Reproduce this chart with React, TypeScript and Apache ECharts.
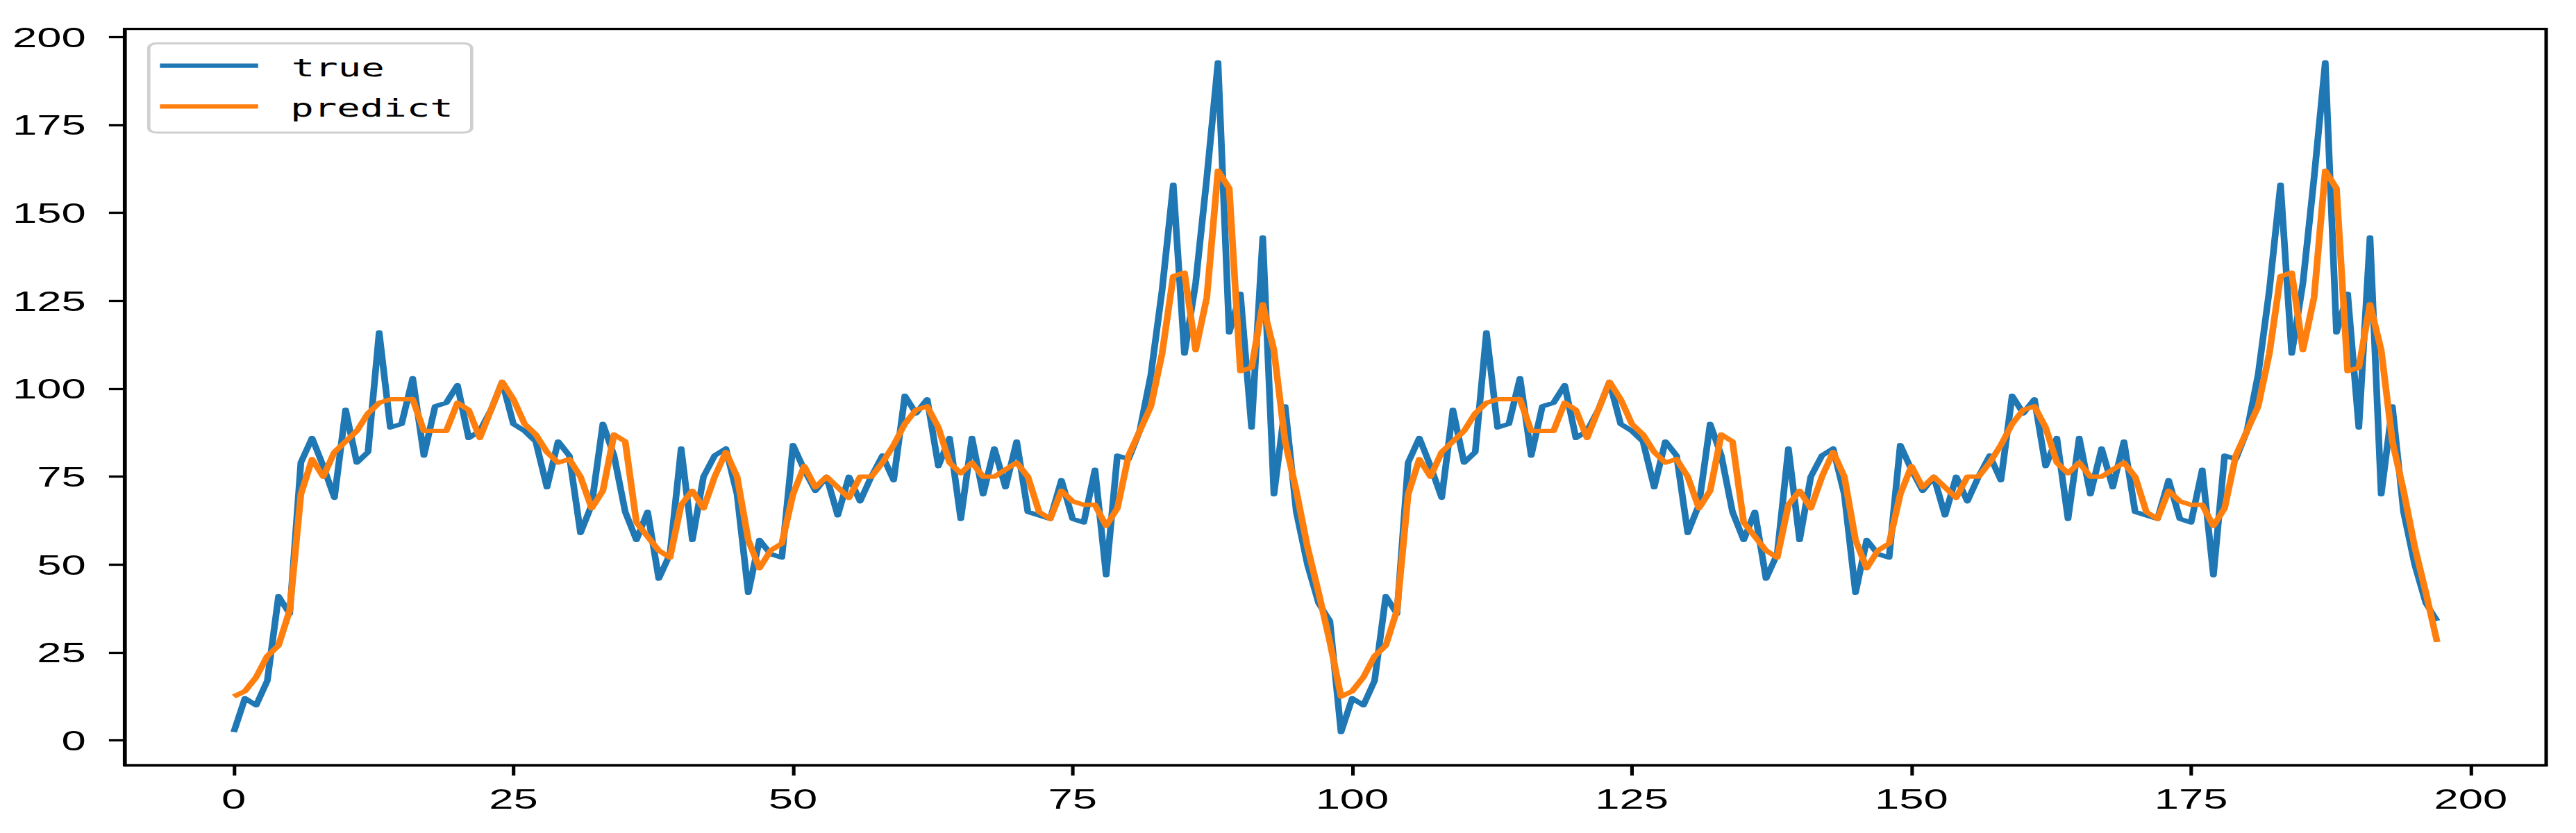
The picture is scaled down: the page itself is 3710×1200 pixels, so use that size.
import React, { useEffect, useRef } from "react";
import * as echarts from "echarts";

// ---- data ----
const xTickValues = [0, 25, 50, 75, 100, 125, 150, 175, 200];
const yTickValues = [0, 25, 50, 75, 100, 125, 150, 175, 200];
const seriesNames = ["true", "predict"];

const trueValues = [
  2.4, 12, 10, 17, 41, 36, 79, 86, 78, 69,
  94, 79, 82, 116, 89, 90, 103, 81, 95, 96,
  101, 86, 88, 94, 102, 90, 88, 85, 72, 85,
  81, 59, 67, 90, 81, 65, 57, 65, 46, 53,
  83, 57, 75, 81, 83, 70, 42, 57, 53, 52,
  84, 77, 71, 75, 64, 75, 68, 75, 81, 74,
  98, 93, 97, 78, 86, 63, 86, 70, 83, 72,
  85, 65, 64, 63, 74, 63, 62, 77, 47, 81,
  80, 88, 104, 128, 158, 110, 130, 160, 192.8, 116,
  127, 89, 143, 70, 95, 65, 50, 39, 34,
  2.4, 12, 10, 17, 41, 36, 79, 86, 78, 69,
  94, 79, 82, 116, 89, 90, 103, 81, 95, 96,
  101, 86, 88, 94, 102, 90, 88, 85, 72, 85,
  81, 59, 67, 90, 81, 65, 57, 65, 46, 53,
  83, 57, 75, 81, 83, 70, 42, 57, 53, 52,
  84, 77, 71, 75, 64, 75, 68, 75, 81, 74,
  98, 93, 97, 78, 86, 63, 86, 70, 83, 72,
  85, 65, 64, 63, 74, 63, 62, 77, 47, 81,
  80, 88, 104, 128, 158, 110, 130, 160, 192.8, 116,
  127, 89, 143, 70, 95, 65, 50, 39, 34,
];

const predictValues = [
  12.5, 14, 18, 24, 27, 37, 70, 80, 75, 82,
  85, 88, 93, 96, 97, 97, 97, 88, 88, 88,
  96, 94, 86, 94, 102, 97, 90, 87, 82, 79,
  80, 75, 66, 71, 87, 85, 62, 58, 54, 52,
  67, 71, 66, 75, 82, 75, 57, 49, 54, 56,
  70, 78, 72, 75, 72, 69, 75, 75, 79, 84,
  90, 94, 95, 89, 79, 76, 79, 75, 75, 77,
  79, 75, 65, 63, 71, 68, 67, 67, 61, 66,
  81, 88, 95, 110, 132, 133, 111, 126, 162, 157,
  105, 106, 124, 111, 85, 71, 55, 42, 28,
  12.5, 14, 18, 24, 27, 37, 70, 80, 75, 82,
  85, 88, 93, 96, 97, 97, 97, 88, 88, 88,
  96, 94, 86, 94, 102, 97, 90, 87, 82, 79,
  80, 75, 66, 71, 87, 85, 62, 58, 54, 52,
  67, 71, 66, 75, 82, 75, 57, 49, 54, 56,
  70, 78, 72, 75, 72, 69, 75, 75, 79, 84,
  90, 94, 95, 89, 79, 76, 79, 75, 75, 77,
  79, 75, 65, 63, 71, 68, 67, 67, 61, 66,
  81, 88, 95, 110, 132, 133, 111, 126, 162, 157,
  105, 106, 124, 111, 85, 71, 55, 42, 28,
];

// ---- styling ----
const BASE_W = 2400;
const H = 1200;
const STRETCH = 3710 / BASE_W;
const BLUE = "#1f77b4";
const ORANGE = "#ff7f0e";
const TICK_FONT = "'Liberation Sans Narrow', 'Liberation Sans', Arial, sans-serif";
const LEGEND_FONT = "'DejaVu Sans Mono', 'Liberation Mono', monospace";

export default function App() {
  const ref = useRef<HTMLDivElement>(null);

  useEffect(() => {
    document.body.style.margin = "0";
    if (!ref.current) return;
    const chart = echarts.init(ref.current, undefined, { renderer: "svg" });

    const toPairs = (arr: number[]) => arr.map((v, i) => [i, v]);

    const axisCommon = {
      type: "value" as const,
      axisLine: { show: true, onZero: false, lineStyle: { color: "#000", width: 3.3 } },
      splitLine: { show: false },
    };

    chart.setOption({
      animation: false,
      backgroundColor: "#ffffff",
      grid: {
        left: 116.1,
        right: 27.8,
        top: 41.7,
        bottom: 97.3,
        show: true,
        borderColor: "#000",
        borderWidth: 3.3,
        backgroundColor: "#ffffff",
        containLabel: false,
      },
      xAxis: {
        ...axisCommon,
        min: -9.76,
        max: 206.75,
        axisTick: {
          show: true,
          customValues: xTickValues,
          length: 14.6,
          lineStyle: { color: "#000", width: 3.3 },
        },
        axisLabel: {
          show: true,
          customValues: xTickValues,
          margin: 28,
          fontSize: 41,
          fontFamily: TICK_FONT,
          color: "#000",
        },
      },
      yAxis: {
        ...axisCommon,
        min: -7.1,
        max: 202.3,
        axisTick: {
          show: true,
          customValues: yTickValues,
          length: 14.6,
          lineStyle: { color: "#000", width: 3.3 },
        },
        axisLabel: {
          show: true,
          customValues: yTickValues,
          margin: 36,
          fontSize: 41,
          fontFamily: TICK_FONT,
          color: "#000",
        },
      },
      series: [
        {
          name: seriesNames[0],
          type: "line",
          data: toPairs(trueValues),
          showSymbol: false,
          symbol: "none",
          lineStyle: { color: BLUE, width: 6.25, join: "round", cap: "butt" },
          itemStyle: { color: BLUE },
          z: 2,
        },
        {
          name: seriesNames[1],
          type: "line",
          data: toPairs(predictValues),
          showSymbol: false,
          symbol: "none",
          lineStyle: { color: ORANGE, width: 6.25, join: "round", cap: "butt" },
          itemStyle: { color: ORANGE },
          z: 3,
        },
      ],
      graphic: [
        {
          type: "group",
          z: 100,
          children: [
            {
              type: "rect",
              shape: { x: 138.6, y: 62.5, width: 300.8, height: 128.5, r: 7 },
              style: { fill: "rgba(255,255,255,0.8)", stroke: "#cfcfcf", lineWidth: 3 },
            },
            {
              type: "line",
              shape: { x1: 149, y1: 94.5, x2: 240.5, y2: 94.5 },
              style: { stroke: BLUE, lineWidth: 6.25 },
            },
            {
              type: "line",
              shape: { x1: 149, y1: 153.3, x2: 240.5, y2: 153.3 },
              style: { stroke: ORANGE, lineWidth: 6.25 },
            },
            {
              type: "text",
              x: 271.5,
              y: 97.5,
              style: {
                text: seriesNames[0],
                fontSize: 36,
                fontFamily: LEGEND_FONT,
                fill: "#000",
                align: "left",
                verticalAlign: "middle",
              },
            },
            {
              type: "text",
              x: 270.5,
              y: 156,
              style: {
                text: seriesNames[1],
                fontSize: 36,
                fontFamily: LEGEND_FONT,
                fill: "#000",
                align: "left",
                verticalAlign: "middle",
              },
            },
          ],
        },
      ],
    });

    return () => {
      chart.dispose();
    };
  }, []);

  return (
    <div
      style={{
        position: "fixed",
        left: 0,
        top: 0,
        width: 3710,
        height: H,
        overflow: "hidden",
        background: "#ffffff",
      }}
    >
      <div
        ref={ref}
        style={{
          width: BASE_W,
          height: H,
          transform: `scaleX(${STRETCH})`,
          transformOrigin: "0 0",
        }}
      />
    </div>
  );
}
